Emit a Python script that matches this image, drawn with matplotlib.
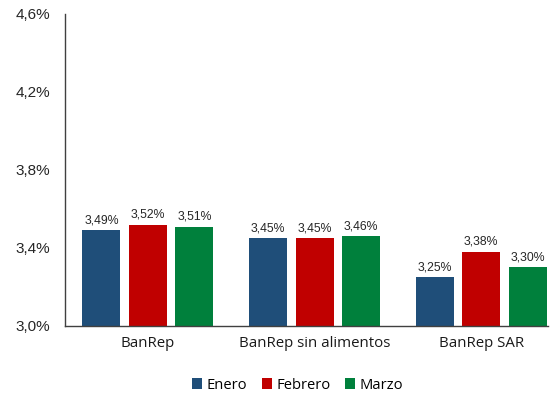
import matplotlib
matplotlib.use("Agg")
import matplotlib.pyplot as plt
import numpy as np

categories = ["BanRep", "BanRep sin alimentos", "BanRep SAR"]
series_names = ["Enero", "Febrero", "Marzo"]
enero = [3.49, 3.45, 3.25]
febrero = [3.52, 3.45, 3.38]
marzo = [3.51, 3.46, 3.30]
colors = ["#1F4E79", "#C00000", "#00803C"]
yticks = [3.0, 3.4, 3.8, 4.2, 4.6]

fig = plt.figure(figsize=(5.55, 3.94), dpi=100)
ax = fig.add_axes([0.117, 0.1726, 0.87, 0.792])

x = np.arange(len(categories))
w = 0.228
off = 0.279
for i, (vals, name, c) in enumerate(zip([enero, febrero, marzo], series_names, colors)):
    pos = x + (i - 1) * off
    bars = ax.bar(pos, vals, width=w, color=c, label=name, zorder=2)
    for xp, v in zip(pos, vals):
        ax.text(xp, v + 0.02, f"{v:.2f}%".replace(".", ","), ha="center", va="bottom",
                fontsize=8.8, family="Liberation Sans", color="#262626")

ax.set_xlim(-0.498, 2.399)
ax.set_ylim(3.0, 4.6)
ax.set_yticks(yticks)
ax.set_yticklabels([f"{t:.1f}%".replace(".", ",") for t in yticks],
                   fontsize=11, family="Liberation Sans", color="#262626")
ax.set_xticks(x)
ax.set_xticklabels(categories, fontsize=10.8, family="Open Sans", color="#1a1a1a")
ax.tick_params(axis="both", length=0)
ax.tick_params(axis="y", pad=10.5)
ax.tick_params(axis="x", pad=7)
for s in ["top", "right"]:
    ax.spines[s].set_visible(False)
for s in ["left", "bottom"]:
    ax.spines[s].set_color("#404040")
    ax.spines[s].set_linewidth(1.0)

leg = fig.legend(loc="upper center", bbox_to_anchor=(0.536, 0.075), ncol=3, frameon=False,
                 prop={"family": "Open Sans", "size": 10.6}, handlelength=0.7, handleheight=0.7,
                 handletextpad=0.3, columnspacing=1.0)

fig.savefig("out.png", dpi=100)
